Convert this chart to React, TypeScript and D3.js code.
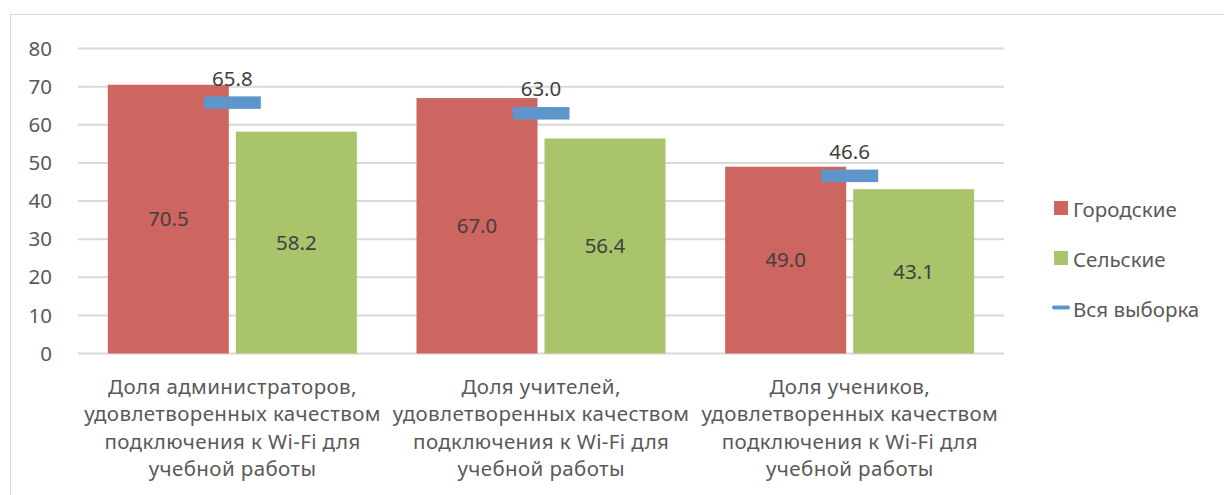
import React from 'react'
import * as d3 from 'd3'

// data
const categories = [
  ['Доля администраторов,', 'удовлетворенных качеством', 'подключения к Wi-Fi для', 'учебной работы'],
  ['Доля учителей,', 'удовлетворенных качеством', 'подключения к Wi-Fi для', 'учебной работы'],
  ['Доля учеников,', 'удовлетворенных качеством', 'подключения к Wi-Fi для', 'учебной работы'],
]
const urban = [70.5, 67.0, 49.0]
const rural = [58.2, 56.4, 43.1]
const total = [65.8, 63.0, 46.6]
const yTicks = [0, 10, 20, 30, 40, 50, 60, 70, 80]
const seriesNames = ['Городские', 'Сельские', 'Вся выборка']

const W = 1224
const H = 495
const RED = '#CD6560'
const GREEN = '#A9C46B'
const BLUE = '#5E95CA'
const FONT = "'Noto Sans', 'Open Sans', sans-serif"
const FS = 20.5

export default function App() {
  const plot = { left: 78, right: 1004, top: 48.5, bottom: 353.5 }

  const x = d3.scaleBand<number>()
    .domain(d3.range(categories.length))
    .range([plot.left, plot.right])

  const y = d3.scaleLinear().domain([0, 80]).range([plot.bottom, plot.top])

  const barW = x.bandwidth() * 0.392
  const gap = 7
  const markW = 57
  const markH = 12.5

  return (
    <svg width={W} height={H} style={{ position: 'absolute', left: 0, top: 0 }} fontFamily={FONT}>
      <rect x={0} y={0} width={W} height={H} fill="#fff" />
      <rect x={10.5} y={14.5} width={W + 20} height={H + 20} fill="none" stroke="#D9D9D9" strokeWidth={1} />

      {yTicks.map(t => (
        <g key={t}>
          <line x1={plot.left} x2={plot.right} y1={y(t)} y2={y(t)} stroke="#D9D9D9" strokeWidth={2} />
          <text x={52} y={y(t)} dy="0.35em" textAnchor="end" fontSize={FS} fill="#595959">{t}</text>
        </g>
      ))}

      {categories.map((lines, i) => {
        const cx = x(i)! + x.bandwidth() / 2
        const rx = cx - gap / 2 - barW
        const gx = cx + gap / 2
        return (
          <g key={i}>
            <rect x={rx} y={y(urban[i])} width={barW} height={y(0) - y(urban[i])} fill={RED} />
            <rect x={gx} y={y(rural[i])} width={barW} height={y(0) - y(rural[i])} fill={GREEN} />
            <text x={rx + barW / 2} y={(y(urban[i]) + y(0)) / 2} dy="0.35em" textAnchor="middle" fontSize={FS} fill="#404040">
              {urban[i].toFixed(1)}
            </text>
            <text x={gx + barW / 2} y={(y(rural[i]) + y(0)) / 2} dy="0.35em" textAnchor="middle" fontSize={FS} fill="#404040">
              {rural[i].toFixed(1)}
            </text>
            <rect x={cx - markW / 2} y={y(total[i]) - markH / 2} width={markW} height={markH} fill={BLUE} />
            <text x={cx} y={y(total[i]) - 24} dy="0.35em" textAnchor="middle" fontSize={FS} fill="#404040">
              {total[i].toFixed(1)}
            </text>
            {lines.map((ln, j) => (
              <text key={j} x={cx + 0.2} y={387 + j * 27.2} dy="0.35em" textAnchor="middle" fontSize={FS}
                letterSpacing={0.4} fill="#595959">{ln}</text>
            ))}
          </g>
        )
      })}

      <g fontSize={FS} fill="#595959">
        <rect x={1054} y={201} width={14} height={14} fill={RED} />
        <text x={1073} y={210} dy="0.35em">{seriesNames[0]}</text>
        <rect x={1054} y={251} width={14} height={14} fill={GREEN} />
        <text x={1073} y={260} dy="0.35em">{seriesNames[1]}</text>
        <line x1={1054} x2={1068} y1={307.5} y2={307.5} stroke={BLUE} strokeWidth={4} strokeLinecap="round" />
        <text x={1073} y={310} dy="0.35em">{seriesNames[2]}</text>
      </g>
    </svg>
  )
}
